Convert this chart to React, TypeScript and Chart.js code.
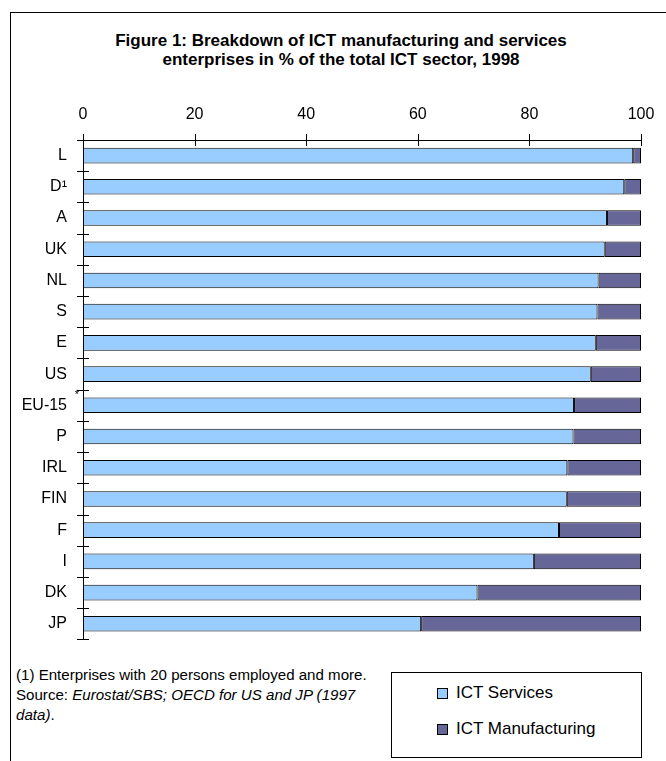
import { useEffect, useRef } from "react";
import { Chart, registerables } from "chart.js";

Chart.register(...registerables);

const FONT = '"Liberation Sans Narrow", "Liberation Sans", Arial, sans-serif';

const countries = ["L", "D¹", "A", "UK", "NL", "S", "E", "US", "EU-15", "P", "IRL", "FIN", "F", "I", "DK", "JP"];
const ictServices = [98.6, 97.0, 93.9, 93.5, 92.4, 92.2, 91.9, 91.0, 88.0, 87.9, 86.8, 86.7, 85.3, 80.8, 70.7, 60.6];
const ictManufacturing = [1.4, 3.0, 6.1, 6.5, 7.6, 7.8, 8.1, 9.0, 12.0, 12.1, 13.2, 13.3, 14.7, 19.2, 29.3, 39.4];
const percentTicks = [0, 20, 40, 60, 80, 100];

const SERIES = [
  { label: "ICT Services", data: ictServices, color: "#99CCFF" },
  { label: "ICT Manufacturing", data: ictManufacturing, color: "#666699" },
];

// axis lines with ticks that cross them, plus the star after EU-15
const axisMarks = {
  id: "axisMarks",
  afterDraw(chart: Chart) {
    const { ctx, chartArea: a } = chart;
    const x = chart.scales.x;
    const y = chart.scales.y;
    ctx.save();
    ctx.strokeStyle = "#000";
    ctx.lineWidth = 1;
    ctx.beginPath();
    ctx.moveTo(a.left - 6, Math.round(a.top) + 0.5);
    ctx.lineTo(a.right, Math.round(a.top) + 0.5);
    ctx.moveTo(Math.round(a.left) + 0.5, a.top);
    ctx.lineTo(Math.round(a.left) + 0.5, a.bottom);
    for (const t of percentTicks) {
      const px = Math.round(x.getPixelForValue(t)) + 0.5;
      ctx.moveTo(px, a.top - 6);
      ctx.lineTo(px, a.top + 6);
    }
    const step = (a.bottom - a.top) / countries.length;
    for (let i = 1; i <= countries.length; i++) {
      const py = Math.round(y.getPixelForValue(i) - step / 2) + 0.5;
      ctx.moveTo(a.left - 6, py);
      ctx.lineTo(a.left + 6, py);
    }
    ctx.stroke();
    const eu = countries.indexOf("EU-15");
    ctx.fillStyle = "#000";
    ctx.font = `11px ${FONT}`;
    ctx.textAlign = "center";
    ctx.textBaseline = "middle";
    ctx.fillText("*", a.left - 6, y.getPixelForValue(eu) - 10);
    ctx.restore();
  },
};

export default function App() {
  const ref = useRef<HTMLCanvasElement | null>(null);

  useEffect(() => {
    if (!ref.current) return;
    const chart = new Chart(ref.current, {
      type: "bar",
      data: {
        labels: countries,
        datasets: SERIES.map((s) => ({
          label: s.label,
          data: s.data,
          backgroundColor: s.color,
          borderColor: "#000",
          borderWidth: 1,
          borderSkipped: false,
          barPercentage: 0.5,
          categoryPercentage: 1,
        })),
      },
      options: {
        indexAxis: "y",
        animation: false,
        responsive: false,
        devicePixelRatio: 1,
        layout: { padding: { left: 0, right: 25, top: 0, bottom: 12 } },
        plugins: { legend: { display: false }, tooltip: { enabled: false }, title: { display: false } },
        scales: {
          x: {
            position: "top",
            stacked: true,
            min: 0,
            max: 100,
            afterBuildTicks: (s) => {
              s.ticks = percentTicks.map((v) => ({ value: v }));
            },
            afterFit: (s) => {
              s.height = 50;
              s.paddingLeft = 0;
              s.paddingRight = 0;
            },
            grid: { display: false, drawTicks: false },
            border: { display: false },
            ticks: { color: "#000", padding: 16, maxRotation: 0, font: { family: FONT, size: 16 } },
          },
          y: {
            stacked: true,
            afterFit: (s) => {
              s.width = 83;
            },
            grid: { display: false, drawTicks: false },
            border: { display: false },
            ticks: { color: "#000", padding: 16, font: { family: FONT, size: 16 } },
          },
        },
      },
      plugins: [axisMarks],
    });
    return () => chart.destroy();
  }, []);

  return (
    <div style={{ position: "absolute", left: 0, top: 0, width: 666, height: 761, background: "#fff", overflow: "hidden", fontFamily: FONT, color: "#000" }}>
      <div style={{ position: "absolute", left: 10, top: 12, width: 656, height: 749, borderLeft: "1px solid #000", borderTop: "1px solid #000" }} />
      <div style={{ position: "absolute", left: 0, width: 682, top: 31, textAlign: "center", fontWeight: "bold", fontSize: 17, lineHeight: "19px" }}>
        Figure 1: Breakdown of ICT manufacturing and services
        <br />
        enterprises in % of the total ICT sector, 1998
      </div>
      <canvas ref={ref} width={666} height={575} style={{ position: "absolute", left: 0, top: 90, width: 666, height: 575 }} />
      <div style={{ position: "absolute", left: 16, top: 665, fontSize: 15.1, lineHeight: "20px", whiteSpace: "nowrap" }}>
        (1) Enterprises with 20 persons employed and more.
        <br />
        Source: <i>Eurostat/SBS; OECD for US and JP (1997</i>
        <br />
        <i>data)</i>.
      </div>
      <div style={{ position: "absolute", left: 391, top: 672, width: 249, height: 84, border: "1px solid #000" }}>
        {SERIES.map((s, i) => (
          <div key={s.label} style={{ position: "absolute", left: 45, top: 10 + i * 36, height: 20, display: "flex", alignItems: "center", fontSize: 17, lineHeight: "20px", whiteSpace: "nowrap" }}>
            <span style={{ display: "inline-block", width: 9, height: 9, border: "1px solid #000", background: s.color, marginRight: 8 }} />
            {s.label}
          </div>
        ))}
      </div>
    </div>
  );
}
